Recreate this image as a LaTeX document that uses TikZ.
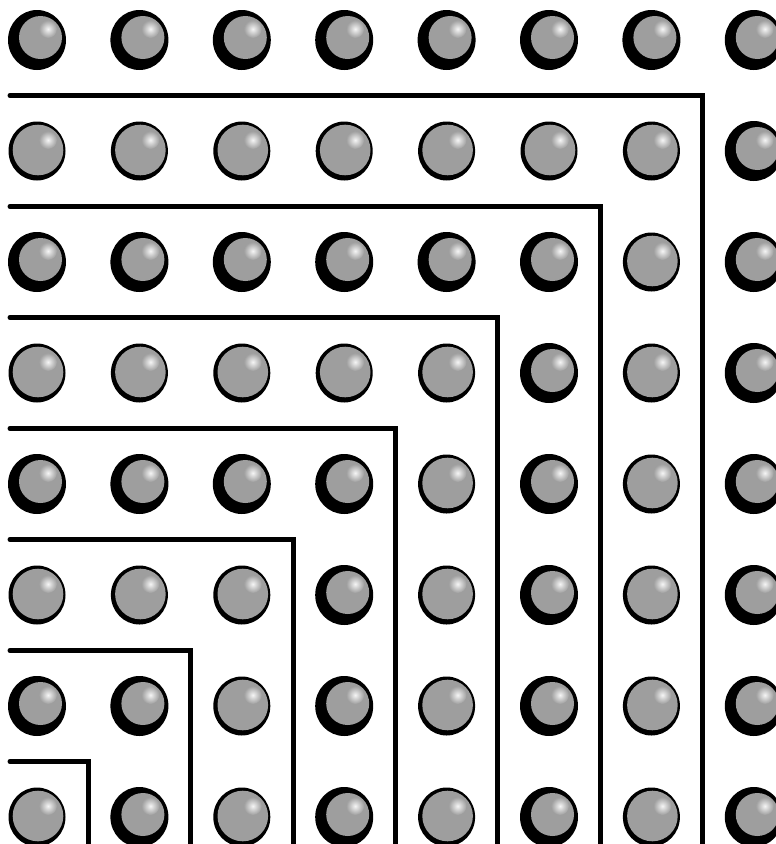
\documentclass[tikz,border=0pt]{standalone}
\usetikzlibrary{calc}
\definecolor{ballgray}{gray}{0.62}
\tikzset{
  darkball/.pic={
    \fill[black] (0,0) ellipse (29 and 30);
    \fill[ballgray] (3.5,-2.5) circle (21.5);
    \shade[inner color=white!90!ballgray, outer color=ballgray] (11,-11) circle (9);
  },
  lightball/.pic={
    \fill[black] (0,0) ellipse (28.5 and 29.5);
    \fill[ballgray] (1,-1) circle (25.3);
    \shade[inner color=white!90!ballgray, outer color=ballgray] (11,-11) circle (9);
  },
  wall/.style={line width=5pt, line cap=round, line join=miter}
}
\begin{document}
\begin{tikzpicture}[x=1pt,y=-1pt]
\useasboundingbox (0,0) rectangle (776,844);
\fill[white] (0,0) rectangle (776,844);
\begin{scope}
\clip (0,0) rectangle (776,844);
% balls
\foreach \c in {0,...,7}{
  \foreach \r in {0,...,7}{
    \pgfmathtruncatemacro{\g}{max(\c,7-\r)}
    \pgfmathtruncatemacro{\odd}{mod(\g,2)}
    \coordinate (b-\c-\r) at ({37+102.4*\c},{40+111*\r});
    \ifnum\odd=1
      \pic at (b-\c-\r) {darkball};
    \else
      \pic at (b-\c-\r) {lightball};
    \fi
  }
}
% gnomon boundaries
\foreach \k in {0,...,6}{
  \coordinate (s-\k) at (10,{40+111*(6-\k)+55.5});
  \coordinate (k-\k) at ({37+102.4*\k+51.2},{40+111*(6-\k)+55.5});
  \coordinate (e-\k) at ({37+102.4*\k+51.2},850);
  \draw[wall] (s-\k) -- (k-\k) -- (e-\k);
}
\end{scope}
\end{tikzpicture}
\end{document}
